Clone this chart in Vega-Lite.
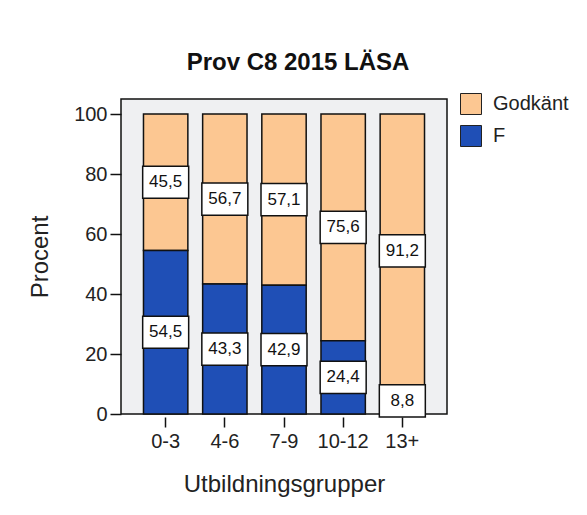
{
  "$schema": "https://vega.github.io/schema/vega-lite/v6.json",
  "autosize": "none",
  "width": 326,
  "height": 315,
  "padding": {"left": 121, "top": 99, "right": 140, "bottom": 101},
  "background": "white",
  "title": {
    "text": "Prov C8 2015 LÄSA",
    "anchor": "middle",
    "frame": "group",
    "dx": 14,
    "offset": 18,
    "font": "Liberation Sans",
    "fontSize": 24,
    "fontWeight": "bold",
    "color": "#111111"
  },
  "data": {
    "values": [
      {"grupp": "0-3", "resultat": "Godkänt", "procent": 45.5},
      {"grupp": "0-3", "resultat": "F", "procent": 54.5},
      {"grupp": "4-6", "resultat": "Godkänt", "procent": 56.7},
      {"grupp": "4-6", "resultat": "F", "procent": 43.3},
      {"grupp": "7-9", "resultat": "Godkänt", "procent": 57.1},
      {"grupp": "7-9", "resultat": "F", "procent": 42.9},
      {"grupp": "10-12", "resultat": "Godkänt", "procent": 75.6},
      {"grupp": "10-12", "resultat": "F", "procent": 24.4},
      {"grupp": "13+", "resultat": "Godkänt", "procent": 91.2},
      {"grupp": "13+", "resultat": "F", "procent": 8.8}
    ]
  },
  "transform": [
    {"stack": "procent", "groupby": ["grupp"], "sort": [{"field": "resultat", "order": "ascending"}], "as": ["y0", "y1"]},
    {"calculate": "(datum.y0 + datum.y1) / 2", "as": "mid"}
  ],
  "encoding": {
    "x": {
      "field": "grupp",
      "type": "nominal",
      "sort": ["0-3", "4-6", "7-9", "10-12", "13+"],
      "scale": {"paddingInner": 0.25, "paddingOuter": 0.38},
      "axis": {
        "title": "Utbildningsgrupper",
        "labelAngle": 0,
        "offset": 3,
        "domain": false,
        "tickSize": 10,
        "tickWidth": 1.5,
        "tickColor": "#111111",
        "labelPadding": 4,
        "labelFontSize": 20,
        "labelColor": "#222222",
        "labelFont": "Liberation Sans",
        "titleFont": "Liberation Sans",
        "titleFontSize": 24,
        "titleFontWeight": "normal",
        "titleColor": "#222222",
        "titlePadding": 21
      }
    }
  },
  "layer": [
    {
      "mark": {"type": "bar", "stroke": "#111111", "strokeWidth": 1.5},
      "encoding": {
        "y": {
          "field": "y1",
          "type": "quantitative",
          "scale": {"domain": [0, 105], "nice": false},
          "axis": {
            "title": "Procent",
            "values": [0, 20, 40, 60, 80, 100],
            "grid": false,
            "domain": false,
            "tickSize": 11,
            "tickWidth": 1.5,
            "tickColor": "#111111",
            "labelPadding": 3,
            "labelFontSize": 20,
            "labelColor": "#222222",
            "labelFont": "Liberation Sans",
            "titleFont": "Liberation Sans",
            "titleFontSize": 24,
            "titleFontWeight": "normal",
            "titleColor": "#222222",
            "titlePadding": 21
          }
        },
        "y2": {"field": "y0"},
        "color": {
          "field": "resultat",
          "type": "nominal",
          "scale": {"domain": ["Godkänt", "F"], "range": ["#fcc792", "#1f4fb6"]},
          "legend": {
            "title": null,
            "orient": "none",
            "legendX": 339,
            "legendY": -6,
            "symbolType": "square",
            "symbolSize": 441,
            "symbolStrokeColor": "#222222",
            "symbolStrokeWidth": 1,
            "symbolOpacity": 1,
            "labelFont": "Liberation Sans",
            "labelFontSize": 20,
            "labelColor": "#222222",
            "labelOffset": 11,
            "rowPadding": 6
          }
        }
      }
    },
    {
      "mark": {
        "type": "point",
        "shape": "M-1,-0.7L1,-0.7L1,0.7L-1,0.7Z",
        "size": 2116,
        "filled": true,
        "fill": "white",
        "stroke": "#111111",
        "strokeWidth": 1.5,
        "opacity": 1
      },
      "encoding": {
        "y": {"field": "mid", "type": "quantitative"}
      }
    },
    {
      "mark": {"type": "text", "font": "Liberation Sans", "fontSize": 17, "color": "#111111", "baseline": "middle"},
      "encoding": {
        "y": {"field": "mid", "type": "quantitative"},
        "text": {"field": "procent", "type": "quantitative", "format": ".1f"}
      }
    }
  ],
  "config": {
    "locale": {"number": {"decimal": ",", "thousands": " ", "grouping": [3], "currency": ["", " kr"]}},
    "view": {"fill": "#eff0f2", "stroke": "#111111", "strokeWidth": 1.5}
  }
}
